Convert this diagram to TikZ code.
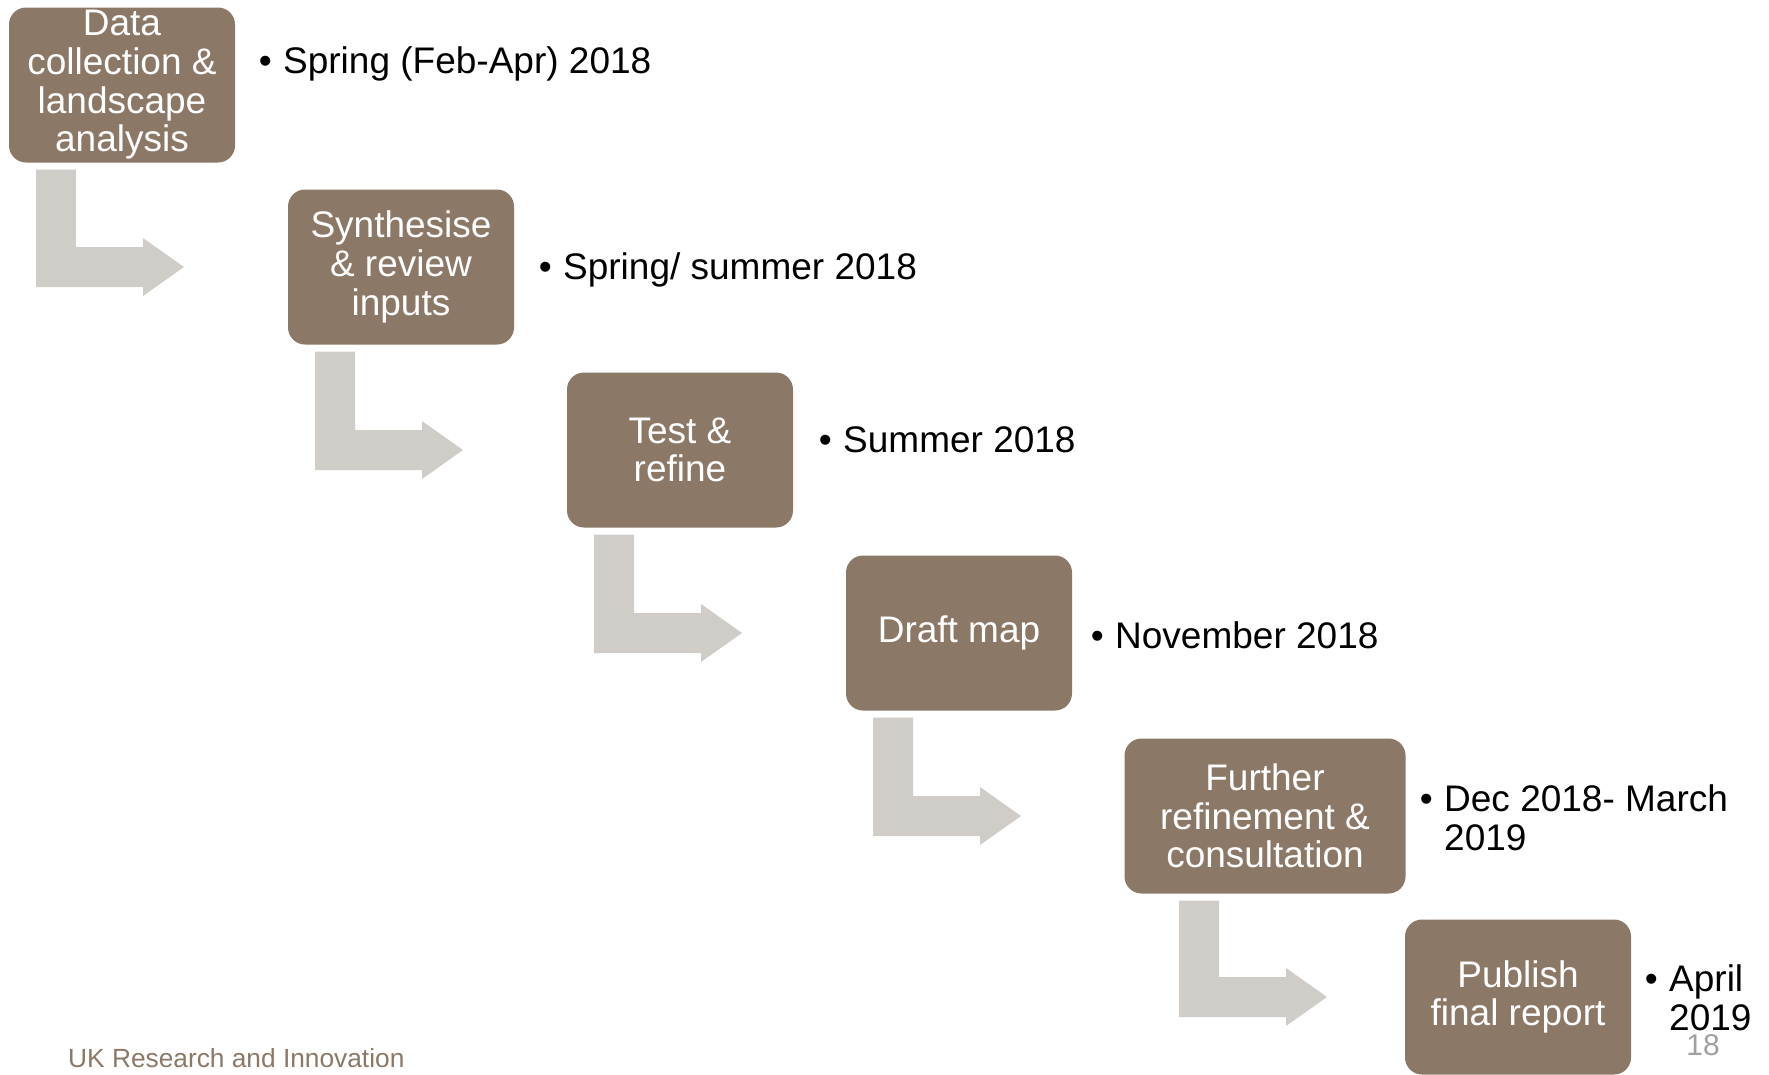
\documentclass[tikz,border=0pt]{standalone}
\usepackage{fontspec}
\setmainfont{Liberation Sans}
\usepackage{xcolor}
\usepackage{tikz}
\usetikzlibrary{positioning,calc}

\definecolor{stepbrown}{RGB}{139,120,102}
\definecolor{bendgray}{RGB}{208,205,200}
\definecolor{pagegray}{RGB}{160,160,160}

\tikzset{
    stepbox/.style={rectangle, rounded corners=17pt, fill=stepbrown, text=white,
        minimum width=226pt, minimum height=155pt, inner sep=2pt, align=center,
        font=\fontsize{37}{38.7}\selectfont},
    datelabel/.style={anchor=west, inner sep=0pt, align=left,
        font=\fontsize{37}{38.7}\selectfont},
}

\newcommand{\bul}{\llap{\textbullet\hspace{11.5pt}}}

\begin{document}
\begin{tikzpicture}[x=1pt, y=-1pt]
    \useasboundingbox (0,0) rectangle (1769,1074);

    % Process steps
    \node[stepbox] (collect) at (122,85) {Data\\collection \&\\landscape\\analysis};
    \node[stepbox] (synth) at (401,267) {Synthesise\\\& review\\inputs};
    \node[stepbox] (test) at (680,450) {Test \&\\refine};
    \node[stepbox] (draft) at (959,633) {Draft map};
    \node[stepbox, minimum width=281pt] (further) at (1265,816) {Further\\refinement \&\\consultation};
    \node[stepbox] (publish) at (1518,997) {Publish\\final report};

    % Dates
    \node[datelabel] (dcollect) at (283,64) {\bul Spring (Feb-Apr) 2018};
    \node[datelabel] (dsynth) at (563,270) {\bul Spring/ summer 2018};
    \node[datelabel] (dtest) at (843,440) {\bul Summer 2018};
    \node[datelabel] (ddraft) at (1115,635) {\bul November 2018};
    \node[datelabel] (dfurther) at (1444,818) {\bul Dec 2018- March\\2019};
    \node[datelabel] (dpublish) at (1669,998) {\bul April\\2019};

    % Bent arrows between steps
    \foreach \a/\b in {collect/synth, synth/test, test/draft, draft/further, further/publish}
        \fill[bendgray] let \p1=(\a.south), \p2=(\b.center), \p3=(\a.center) in
            (\x3-86pt,\y1-7pt) -- (\x3-46pt,\y1-7pt) -- (\x3-46pt,\y2+20pt)
            -- (\x3+21pt,\y2+20pt) -- (\x3+21pt,\y2+29pt) -- (\x3+62pt,\y2)
            -- (\x3+21pt,\y2-29pt) -- (\x3+21pt,\y2-20pt) -- (\x3-86pt,\y2-20pt) -- cycle;

    % Footer
    \node[anchor=base west, inner sep=0pt, text=stepbrown, font=\fontsize{26.3}{30}\selectfont] (footer) at (68,1067) {UK Research and Innovation};
    \node[anchor=base, inner sep=0pt, text=pagegray, font=\fontsize{30}{34}\selectfont] (pagenum) at (1703,1055) {18};
\end{tikzpicture}
\end{document}
